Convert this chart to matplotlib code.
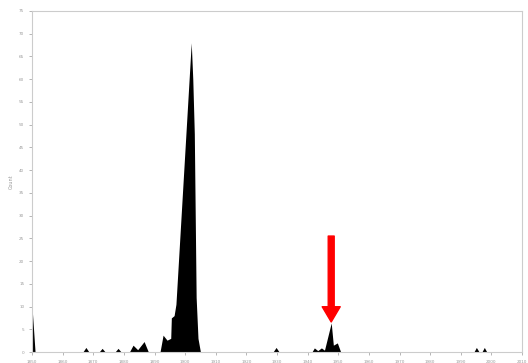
import matplotlib
matplotlib.use("Agg")
import numpy as np
import matplotlib.pyplot as plt

# year / count profile (filled area)
years = [1850, 1851,
         1866.6, 1867.6, 1868.6,
         1871.9, 1872.9, 1873.9,
         1877.1, 1878.1, 1879.1,
         1881.8, 1883.0, 1884.5, 1886.6, 1888.0,
         1891.8, 1892.8, 1894.1, 1895.3, 1895.5, 1896.4, 1897.0,
         1902.0, 1902.5, 1903.0, 1903.6, 1904.2, 1905.0,
         1928.7, 1929.7, 1930.7,
         1941.4, 1942.2, 1943.3, 1944.5, 1945.5, 1947.7, 1948.4, 1949.7, 1950.8,
         1994.3, 1995.1, 1996.0,
         1996.9, 1997.7, 1998.5]
counts = [10, 0,
          0, 1.0, 0,
          0, 0.8, 0,
          0, 0.8, 0,
          0, 1.5, 0.5, 2.3, 0,
          0, 3.7, 2.6, 3.0, 7.5, 8.0, 10.5,
          68, 60, 48, 12, 3, 0,
          0, 1.0, 0,
          0, 0.9, 0.3, 0.9, 0.4, 6.4, 1.5, 2.0, 0,
          0, 1.0, 0,
          0, 1.0, 0]

xticks = list(range(1850, 2011, 10))
yticks = list(range(0, 76, 5))
arrow_year = 1947.7
arrow_tip, arrow_tail = 6.6, 25.5

fig = plt.figure(figsize=(5.28, 3.63), dpi=100)
ax = fig.add_axes([32 / 528, 11 / 363, 490 / 528, 341 / 363])

ax.fill_between(years, counts, 0, color="black", lw=0)

ax.set_xlim(1850, 2010)
ax.set_ylim(0, 75)
ax.set_xticks(xticks)
ax.set_yticks(yticks)
ax.tick_params(labelsize=3, colors="#999999", length=2, width=0.5)
for s in ax.spines.values():
    s.set_color("#cccccc")
    s.set_linewidth(0.8)
ax.set_ylabel("Count", fontsize=3.5, color="#999999", labelpad=4)

# red arrow pointing at the small peak
ax.annotate("", xy=(arrow_year, arrow_tip), xytext=(arrow_year, arrow_tail),
            arrowprops=dict(width=4.3, headwidth=13, headlength=11,
                            facecolor="#ff0000", edgecolor="#ff0000",
                            shrink=0))

fig.savefig("out.png", dpi=100)
